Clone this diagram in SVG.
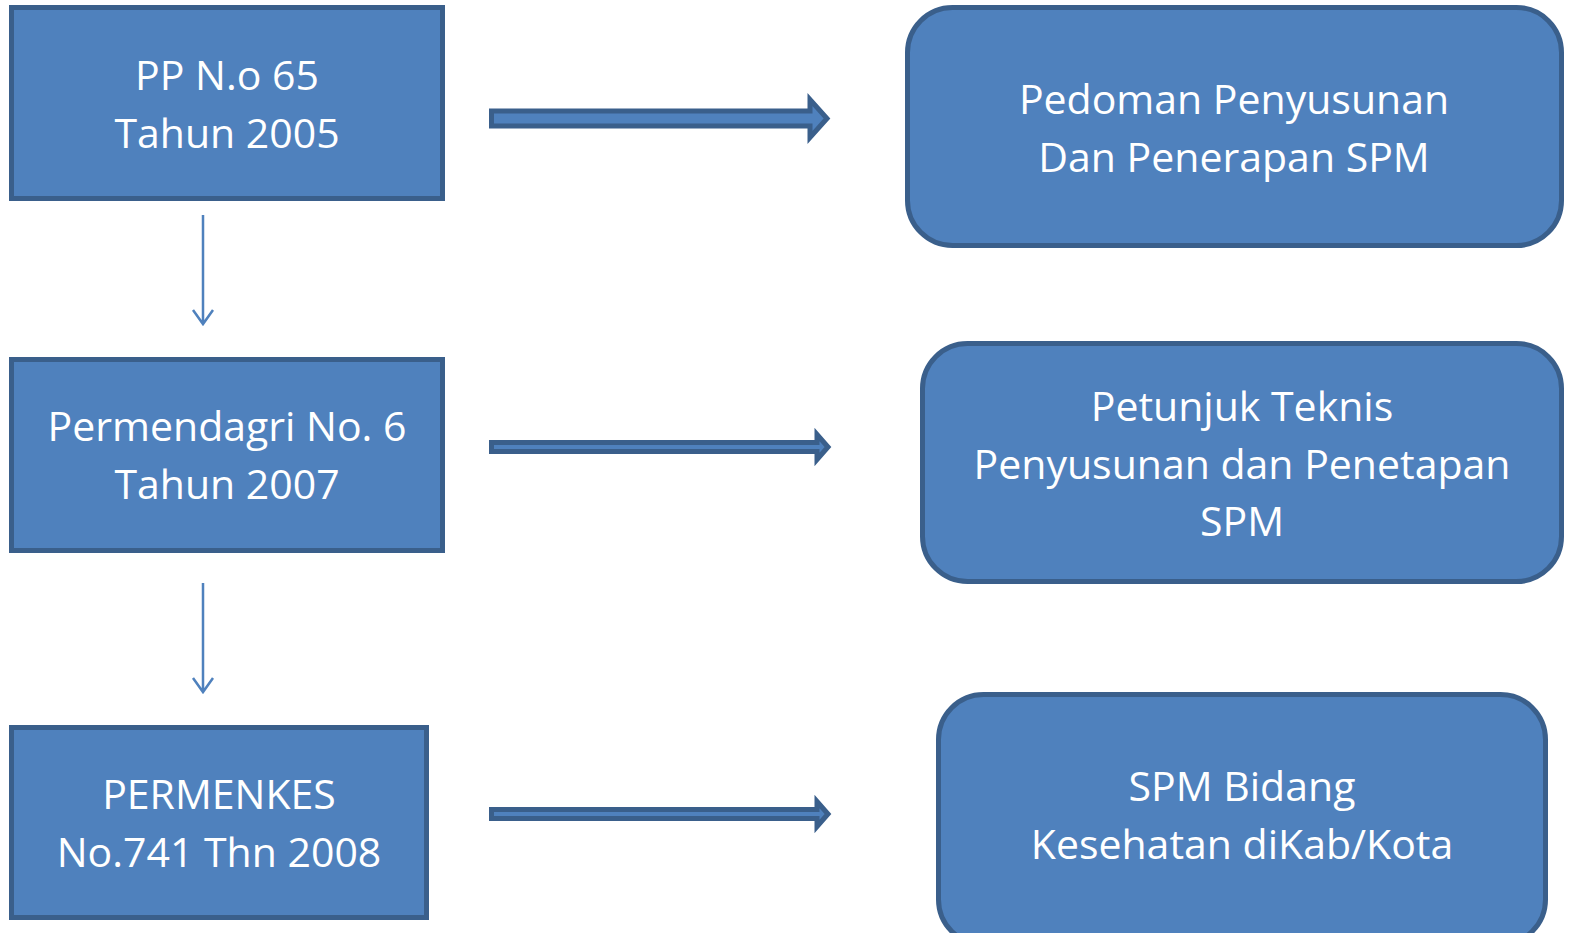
<svg xmlns="http://www.w3.org/2000/svg" width="1569" height="933" viewBox="0 0 1569 933">
<style>
.box{fill:#4F81BD;stroke:#3A5F8B;stroke-width:5}
.blk{fill:#4F81BD;stroke:#3A5F8B;stroke-width:5;stroke-linejoin:miter}
.t{font-family:"Open Sans","Liberation Sans",sans-serif;font-size:41px;fill:#FFFFFF;text-anchor:middle}
.down{stroke:#4F81BD;stroke-width:2.5;fill:none}
</style>
<rect width="1569" height="933" fill="#FFFFFF"/>
<g id="n1"><rect class="box" x="11.5" y="7.5" width="431" height="191"/>
<text class="t" x="227" y="90">PP N.o 65</text><text class="t" x="227" y="148">Tahun 2005</text></g>
<g id="n2"><rect class="box" x="11.5" y="359.5" width="431" height="191"/>
<text class="t" x="227" y="441">Permendagri No. 6</text><text class="t" x="227" y="499">Tahun 2007</text></g>
<g id="n3"><rect class="box" x="11.5" y="727.5" width="415" height="190"/>
<text class="t" x="219" y="809">PERMENKES</text><text class="t" x="219" y="867">No.741 Thn 2008</text></g>
<g id="r1"><rect class="box" x="907.5" y="7.5" width="654" height="238" rx="45"/>
<text class="t" x="1234" y="114">Pedoman Penyusunan</text><text class="t" x="1234" y="172">Dan Penerapan SPM</text></g>
<g id="r2"><rect class="box" x="922.5" y="343.5" width="639" height="238" rx="45"/>
<text class="t" x="1242" y="421">Petunjuk Teknis</text><text class="t" x="1242" y="479">Penyusunan dan Penetapan</text><text class="t" x="1242" y="536">SPM</text></g>
<g id="r3"><rect class="box" x="938.5" y="694.5" width="607" height="250" rx="45"/>
<text class="t" x="1242" y="801">SPM Bidang</text><text class="t" x="1242" y="859">Kesehatan diKab/Kota</text></g>
<g id="connectors">
<path class="blk" d="M491.5,111 L810,111 L810,99.5 L827,118.5 L810,137.5 L810,126 L491.5,126 Z"/>
<path class="blk" d="M491.5,442.5 L817,442.5 L817,434.5 L828,447 L817,459.5 L817,451.5 L491.5,451.5 Z"/>
<path class="blk" d="M491.5,809.5 L817,809.5 L817,801.5 L828,814 L817,826.5 L817,818.5 L491.5,818.5 Z"/>
<path class="down" d="M203,215 V324 M193,310 L203,324 L213,310"/>
<path class="down" d="M203,583 V692 M193,678 L203,692 L213,678"/>
</g>
</svg>
